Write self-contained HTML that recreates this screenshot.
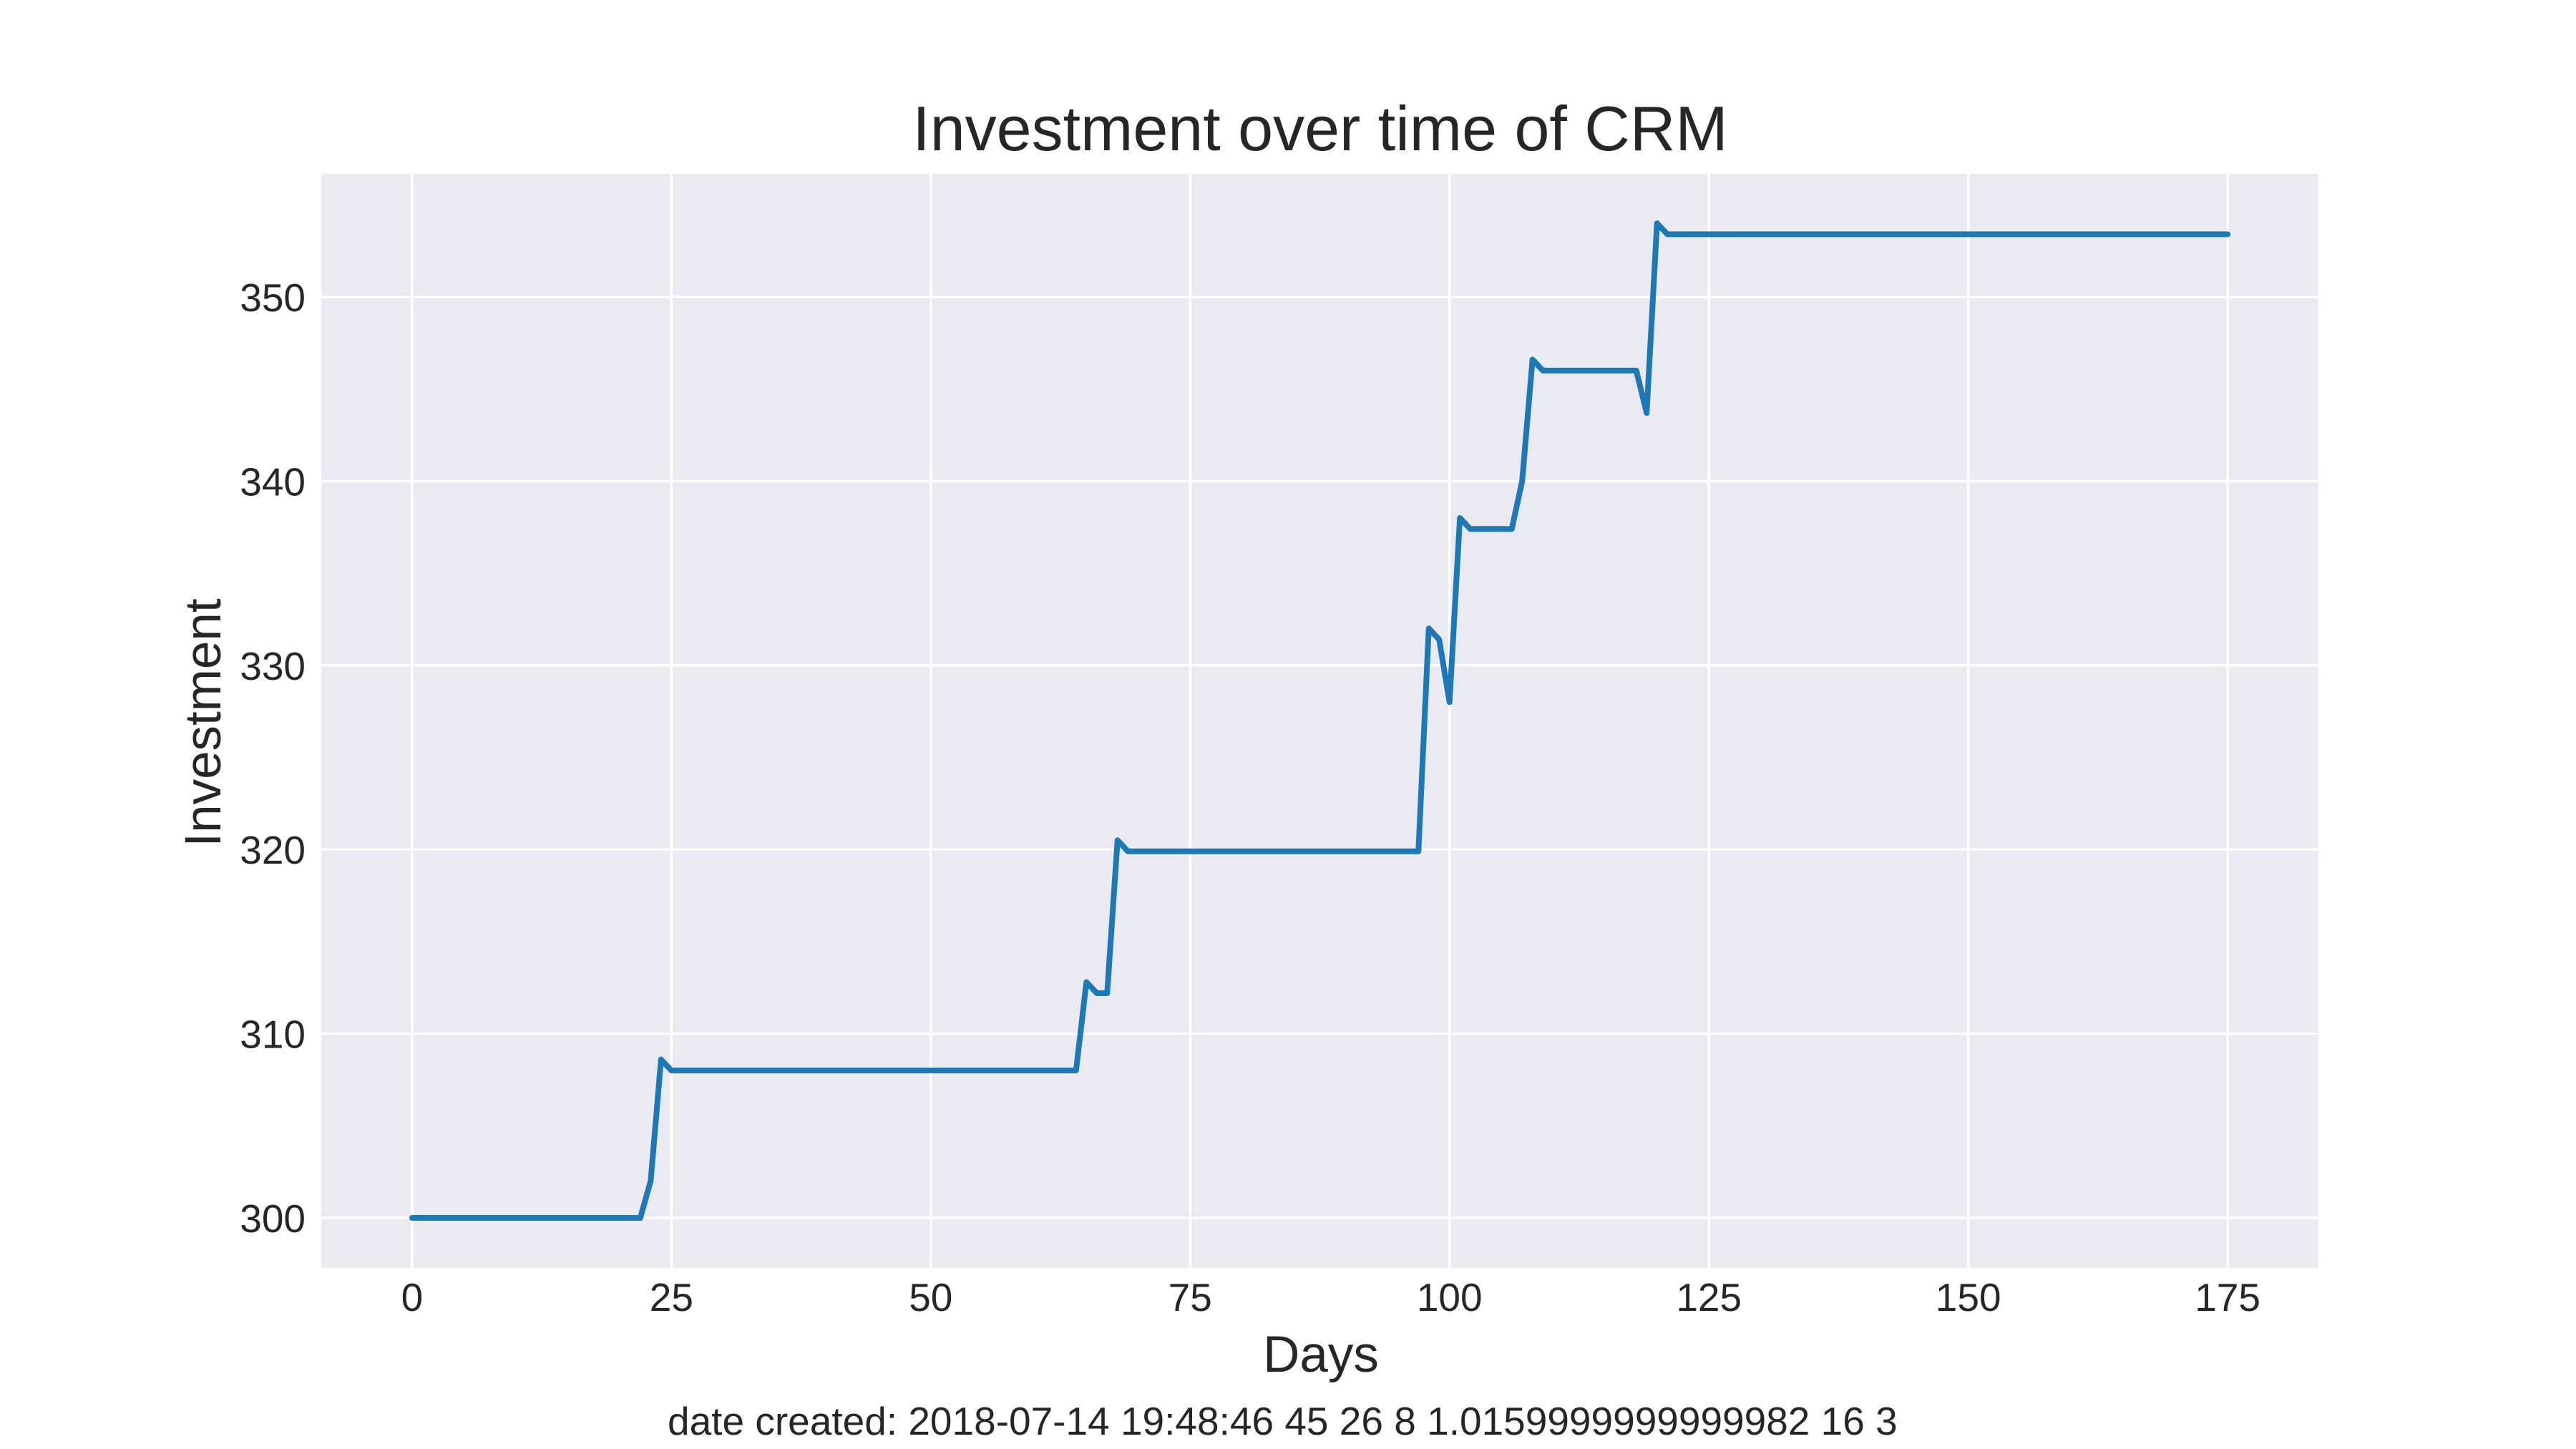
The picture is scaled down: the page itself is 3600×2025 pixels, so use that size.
<!DOCTYPE html>
<html><head><meta charset="utf-8"><style>
html,body{margin:0;padding:0;background:#fff;}
svg{display:block;font-family:"Liberation Sans",Arial,sans-serif;}
</style></head><body>
<svg id="chart" width="3600" height="2025" viewBox="0 0 3600 2025" xmlns="http://www.w3.org/2000/svg">
<rect x="0" y="0" width="3600" height="2025" fill="#ffffff"/>
<rect x="449" y="243" width="2791" height="1529" fill="#eaeaf2"/>
<g id="grid"></g>
<g id="ticks"></g>
<path id="series" fill="none" stroke="#1f77b4" stroke-width="8" stroke-linejoin="round" stroke-linecap="round"/>
<text x="1845" y="210" font-size="88" text-anchor="middle" fill="#262626">Investment over time of CRM</text>
<text x="1846" y="1917" font-size="71" text-anchor="middle" fill="#262626">Days</text>
<text x="0" y="0" font-size="71" text-anchor="middle" fill="#262626" transform="translate(308,1010) rotate(-90)">Investment</text>
<text x="933" y="2005" font-size="55" fill="#262626">date created: 2018-07-14 19:48:46 45 26 8 1.0159999999999982 16 3</text>
</svg>
<script>
const days = [];
for (let i = 0; i <= 175; i++) days.push(i);
const seg1 = [300,300,300,300,300,300,300,300,300,300,300,300,300,300,300,300,300,300,300,300,300,300,300,302,308.6];
const seg2Level = 308;
const seg3 = [312.8,312.2,312.2,320.5];
const seg4Level = 319.9;
const seg5 = [332,331.4,328,338];
const seg6Level = 337.4;
const seg7 = [340,346.6];
const seg8Level = 346;
const seg9 = [343.7,354];
const seg10Level = 353.4;
const xTicks = [0,25,50,75,100,125,150,175];
const yTicks = [300,310,320,330,340,350];

const investment = [];
seg1.forEach(v => investment.push(v));
for (let d = 25; d <= 64; d++) investment.push(seg2Level);
seg3.forEach(v => investment.push(v));
for (let d = 69; d <= 97; d++) investment.push(seg4Level);
seg5.forEach(v => investment.push(v));
for (let d = 102; d <= 106; d++) investment.push(seg6Level);
seg7.forEach(v => investment.push(v));
for (let d = 109; d <= 118; d++) investment.push(seg8Level);
seg9.forEach(v => investment.push(v));
for (let d = 121; d <= 175; d++) investment.push(seg10Level);

const PL = 449, PR = 3240, PT = 243, PB = 1772;
const xMin = -8.75, xMax = 183.75;
const yMin = 297.28, yMax = 356.68;
const xs = v => PL + (v - xMin) / (xMax - xMin) * (PR - PL);
const ys = v => PB - (v - yMin) / (yMax - yMin) * (PB - PT);
const NS = "http://www.w3.org/2000/svg";
const grid = document.getElementById('grid');
const ticks = document.getElementById('ticks');

xTicks.forEach(t => {
  const l = document.createElementNS(NS, 'line');
  l.setAttribute('x1', xs(t)); l.setAttribute('x2', xs(t));
  l.setAttribute('y1', PT); l.setAttribute('y2', PB);
  l.setAttribute('stroke', '#fff'); l.setAttribute('stroke-width', '3.5');
  
  
  grid.appendChild(l);
  const tx = document.createElementNS(NS, 'text');
  tx.setAttribute('x', xs(t)); tx.setAttribute('y', 1832);
  tx.setAttribute('font-size', '55'); tx.setAttribute('text-anchor', 'middle'); tx.setAttribute('fill', '#262626');
  tx.textContent = t;
  
  
  ticks.appendChild(tx);
});
yTicks.forEach(t => {
  const l = document.createElementNS(NS, 'line');
  l.setAttribute('x1', PL); l.setAttribute('x2', PR);
  l.setAttribute('y1', ys(t)); l.setAttribute('y2', ys(t));
  l.setAttribute('stroke', '#fff'); l.setAttribute('stroke-width', '3.5');
  
  
  grid.appendChild(l);
  const tx = document.createElementNS(NS, 'text');
  tx.setAttribute('x', 427); tx.setAttribute('y', ys(t) + 20);
  tx.setAttribute('font-size', '55'); tx.setAttribute('text-anchor', 'end'); tx.setAttribute('fill', '#262626');
  tx.textContent = t;
  
  
  ticks.appendChild(tx);
});
let d = '';
days.forEach((x, i) => { d += (i ? 'L' : 'M') + xs(x).toFixed(2) + ',' + ys(investment[i]).toFixed(2); });
document.getElementById('series').setAttribute('d', d);
</script>
</body></html>
